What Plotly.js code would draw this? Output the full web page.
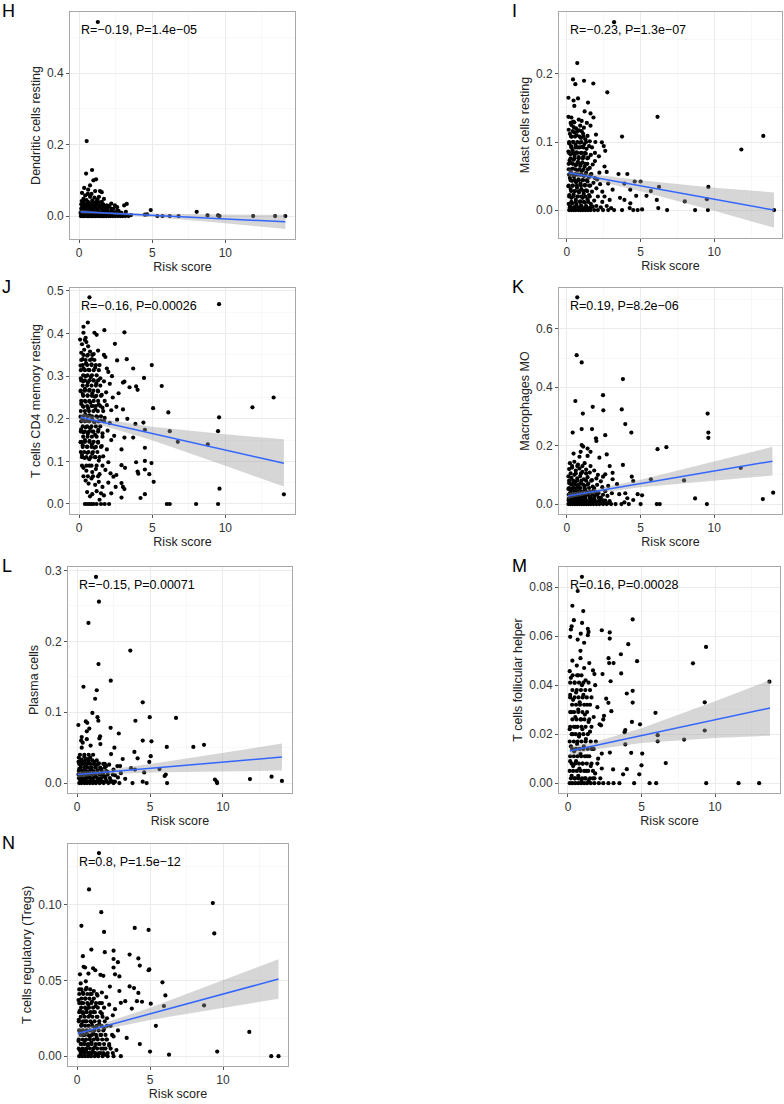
<!DOCTYPE html>
<html>
<head>
<meta charset="utf-8">
<script src="https://cdn.plot.ly/plotly-3.0.1.min.js"></script>
<style>
  body { margin: 0; background: #fff; }
  #plot { width: 784px; height: 1104px; }
</style>
</head>
<body>
<div id="plot"></div>
<script>
// panel letters, y axis titles and correlation labels
var panelLetters = ["H", "I", "J", "K", "L", "M", "N"];
var yTitles = ["Dendritic cells resting", "Mast cells resting", "T cells CD4 memory resting",
  "Macrophages MO", "Plasma cells", "T cells follicular helper", "T cells regulatory (Tregs)"];
var statLabels = ["R=\u22120.19, P=1.4e\u221205", "R=\u22120.23, P=1.3e\u221207", "R=\u22120.16, P=0.00026",
  "R=0.19, P=8.2e\u221206", "R=\u22120.15, P=0.00071", "R=0.16, P=0.00028", "R=0.8, P=1.5e\u221212"];

// H: Dendritic cells resting  [risk score, fraction]
var hPts = [[1.28,.543],[0.52,.21],[0.48,.119],[0.89,.129],[1.16,.103],[0.98,.10],[0.75,.086],[0.35,.079],[1.43,.07],[1.1,.07],
  [1.55,.067],[0.6,.062],[0.75,.054],[1.36,.054],[0.3,.048],[1.2,.04],[3.26,.034],[3.08,.03],[2.6,.025],[4.9,.017],[3.55,.003],
  [4.65,.005],[4.5,.004],[5.35,0],[5.7,0],[6.2,0],[6.8,0],[8.04,.012],[8.78,.002],[9.5,.002],[9.6,0],[11.9,0],[13.4,0],[14.1,0],
  [0.12,0],[0.25,0],[0.33,0],[0.41,0],[0.56,0],[0.62,0],[0.74,0],[0.85,0],[0.93,0],[1.05,0],[1.12,0],[1.24,0],[1.37,0],[1.46,0],
  [1.58,0],[1.66,0],[1.79,0],[1.88,0],[2.02,0],[2.15,0],[2.31,0],[2.48,0],[2.66,0],[2.83,0],[2.97,0],[3.15,0],[3.38,0],
  [0.15,.012],[0.22,.025],[0.28,.008],[0.35,.018],[0.4,.032],[0.46,.006],[0.52,.014],[0.58,.027],[0.63,.038],[0.7,.01],[0.77,.02],
  [0.83,.031],[0.88,.005],[0.95,.016],[1.02,.026],[1.08,.009],[1.15,.035],[1.22,.019],[1.3,.012],[1.38,.028],[1.45,.006],[1.52,.021],
  [1.6,.033],[1.7,.013],[1.78,.024],[1.87,.008],[1.96,.017],[2.05,.028],[2.2,.011],[2.35,.02],[2.5,.007],[2.7,.015],[2.9,.009],
  [3.2,.012],[0.18,.042],[0.5,.045],[0.9,.044],[1.25,.047],[0.3,.004],[0.66,.003],[1.0,.004],[1.33,.003],[2.1,.004],[0.45,.022],
  [1.9,.03],[0.72,.036],[1.55,.04],[0.25,.034],[2.45,.03],[1.05,.052],[0.42,.058],[0.85,.062],[0.2,.065],[1.7,.048],[0.62,.074],[2.2,.035]];
// dense part of the cloud, read as rows: [fraction, [risk scores]]
var hDense = [[.003,[0.2,0.5,0.8,1.1,1.4,1.7,2.0,2.3,2.6,2.9,3.2]],[.009,[0.1,0.35,0.6,0.9,1.2,1.5,1.8,2.1,2.4,2.75]],
  [.015,[0.2,0.45,0.7,1.0,1.3,1.6,1.9,2.25,2.6]],[.021,[0.15,0.4,0.65,0.95,1.25,1.55,1.85,2.2]],
  [.027,[0.25,0.5,0.8,1.1,1.4,1.7,2.0]],[.033,[0.15,0.45,0.75,1.05,1.35,1.65]],[.04,[0.3,0.6,0.95,1.3]]];
var hFit = [[0.1,.012],[14.1,-.016]];
var hBandX = [0.1,1.7,5,10,14.1];
var hBandHi = [.017,.0118,.0072,.0042,.004];
var hBandLo = [.007,.0058,-.0028,-.0198,-.036];

// I: Mast cells resting
var iPts = [[3.2,.276],[0.70,.216],[0.41,.192],[0.57,.185],[1.16,.19],[1.79,.186],[2.74,.173],[0.1,.165],[0.75,.164],[0.45,.161],
  [1.43,.158],[0.5,.153],[1.2,.145],[6.15,.137],[0.1,.137],[0.3,.136],[1.6,.142],[1.8,.136],[0.8,.133],[1.0,.131],[0.5,.129],
  [1.35,.128],[1.6,.124],[0.45,.122],[3.74,.108],[13.33,.109],[11.84,.089],[1.97,.111],[2.37,.0995],[2.5,.094],[2.6,.087],[1.93,.1],
  [1.9,.084],[2.17,.079],[2.55,.064],[2.7,.056],[3.5,.053],[4.1,.053],[4.6,.042],[5.0,.042],[5.7,.028],[6.25,.034],[6.1,.015],
  [8.0,.0128],[9.6,.034],[9.5,.016],[3.74,0],[4.26,.003],[4.5,0],[4.8,0],[5.1,.001],[6.2,.003],[6.8,0],[8.7,0],[9.57,0],[14.06,0],
  [1.9,.072],[2.2,.055],[2.8,.039],[3.1,.03],[3.9,.039],[4.3,.03],[4.7,.021],[5.4,.021],[3.9,.015],[4.3,.01],[2.4,.027],[2.55,.02],
  [2.9,.015],[3.6,.018],
  [0.12,.118],[0.2,.112],[0.33,.108],[0.5,.114],[0.66,.11],[0.82,.117],[0.95,.106],[1.1,.112],[1.25,.104],[1.4,.109],[1.55,.101],
  [0.15,.098],[0.28,.094],[0.42,.1],[0.58,.096],[0.72,.092],[0.88,.099],[1.02,.093],[1.18,.097],[1.33,.09],[1.5,.094],[1.7,.092],
  [0.1,.086],[0.24,.082],[0.38,.088],[0.52,.08],[0.65,.085],[0.8,.078],[0.95,.084],[1.12,.079],[1.28,.083],[1.45,.077],[1.62,.081],
  [0.18,.073],[0.3,.069],[0.46,.074],[0.6,.066],[0.75,.071],[0.9,.065],[1.05,.07],[1.2,.064],[1.38,.068],[1.55,.062],[1.75,.067],
  [0.12,.06],[0.26,.056],[0.4,.061],[0.55,.053],[0.7,.058],[0.85,.052],[1.0,.057],[1.15,.05],[1.3,.055],[1.48,.048],[1.66,.053],[1.9,.047],
  [0.2,.047],[0.34,.043],[0.48,.049],[0.62,.041],[0.78,.045],[0.92,.039],[1.08,.044],[1.22,.037],[1.4,.042],[1.58,.036],[1.8,.04],[2.05,.045],
  [0.1,.035],[0.25,.031],[0.38,.036],[0.52,.028],[0.68,.033],[0.82,.026],[0.98,.031],[1.14,.024],[1.3,.029],[1.5,.022],[1.7,.027],[2.0,.032],[2.25,.038],
  [0.16,.022],[0.3,.018],[0.45,.023],[0.6,.015],[0.75,.02],[0.9,.013],[1.06,.018],[1.22,.011],[1.4,.016],[1.62,.009],[1.85,.014],[2.1,.02],[2.4,.012],
  [0.12,.009],[0.22,.005],[0.36,.01],[0.5,.004],[0.64,.008],[0.8,.003],[0.96,.007],[1.12,.002],[1.3,.006],[1.52,.003],[1.75,.005],[2.0,.006],[2.3,.004],[2.7,.006],[3.0,.003],
  [0.15,0],[0.3,0],[0.45,0],[0.6,0],[0.78,0],[0.92,0],[1.08,0],[1.25,0],[1.42,0],[1.6,0],[1.85,0],[2.1,0],[2.45,0],[2.8,0],[3.2,0],
  [0.3,.125],[0.62,.12],[0.9,.124],[1.15,.121],[0.42,.13],[0.25,.128]];
var iDense = [[.004,[0.2,0.48,0.75,1.02,1.3,1.6]],[.012,[0.3,0.6,0.88,1.15,1.45]],[.02,[0.15,0.42,0.7,0.98,1.25,1.55]],
  [.028,[0.28,0.55,0.82,1.1,1.38]],[.036,[0.12,0.4,0.68,0.95,1.22,1.5]],[.044,[0.25,0.52,0.8,1.08,1.35]],
  [.052,[0.15,0.42,0.7,0.98,1.25,1.6]],[.06,[0.3,0.58,0.85,1.12,1.42]],[.068,[0.12,0.4,0.68,0.95,1.25]],
  [.076,[0.25,0.52,0.8,1.08,1.38]],[.084,[0.15,0.42,0.7,0.98,1.22]],[.092,[0.3,0.58,0.85,1.12]],
  [.1,[0.15,0.42,0.7,0.98,1.3]],[.108,[0.28,0.55,0.85,1.12]],[.116,[0.4,0.7,1.0]]];
var iFit = [[0.1,.055],[14.06,0]];
var iBandX = [0.1,1.7,5,10,14.06];
var iBandHi = [.06,.0527,.0437,.033,.026];
var iBandLo = [.05,.0447,.0277,-.001,-.026];

// J: T cells CD4 memory resting
var jPts = [[0.71,.485],[9.57,.469],[0.6,.426],[0.3,.416],[1.73,.408],[1.05,.402],[1.2,.397],[3.1,.403],[0.3,.402],[0.07,.386],
  [0.4,.385],[2.45,.376],[0.5,.38],[3.26,.34],[2.6,.337],[1.7,.35],[1.8,.345],[4.97,.326],[3.7,.318],[1.9,.318],[4.44,.296],
  [5.65,.277],[3.9,.276],[4.0,.268],[3.45,.274],[3.0,.285],[3.1,.287],[2.25,.3],[13.3,.25],[11.85,.227],[5.06,.225],[6.1,.215],
  [9.57,.2035],[3.85,.188],[4.4,.191],[4.5,.174],[6.2,.171],[6.75,.146],[9.5,.171],[8.8,.14],[3.7,.156],[3.1,.156],[4.5,.132],
  [2.9,.128],[3.9,.098],[4.5,.101],[4.95,.096],[2.9,.091],[3.14,.085],[4.0,.076],[4.05,.071],[4.5,.081],[4.8,.07],[5.1,.052],
  [2.55,.068],[2.35,.064],[2.9,.049],[3.0,.04],[2.5,.04],[3.1,.035],[2.9,.015],[4.5,.023],[4.2,.014],[9.6,.036],[14.0,.0227],
  [6.0,0],[6.2,0],[8.0,0],[9.5,0],[1.7,.02],[1.5,.025],[0.9,.023],
  [0.4,0],[0.55,0],[0.7,0],[0.85,0],[1.0,0],[1.2,0],[1.5,0],[1.75,0],[2.05,0],
  [0.15,.355],[0.35,.362],[0.55,.348],[0.75,.358],[1.0,.352],[1.3,.36],
  [0.1,.325],[0.3,.318],[0.48,.33],[0.65,.315],[0.85,.328],[1.1,.32],[1.4,.326],[2.0,.31],
  [0.12,.295],[0.28,.288],[0.45,.3],[0.6,.285],[0.8,.298],[0.98,.29],[1.18,.283],[1.45,.295],[1.7,.288],[2.1,.282],
  [0.1,.265],[0.25,.258],[0.4,.27],[0.58,.255],[0.72,.268],[0.9,.26],[1.08,.252],[1.3,.264],[1.55,.256],[1.85,.262],[2.3,.25],[2.7,.26],
  [0.15,.235],[0.3,.228],[0.46,.24],[0.62,.225],[0.78,.238],[0.95,.23],[1.12,.222],[1.35,.234],[1.6,.226],[1.9,.232],[2.2,.22],[2.55,.228],[3.0,.222],
  [0.1,.205],[0.26,.198],[0.42,.21],[0.56,.195],[0.7,.208],[0.88,.2],[1.05,.192],[1.25,.204],[1.5,.196],[1.75,.202],[2.1,.19],[2.6,.198],[3.3,.2],
  [0.14,.175],[0.3,.168],[0.45,.18],[0.6,.165],[0.76,.178],[0.92,.17],[1.1,.162],[1.32,.174],[1.6,.166],[1.95,.172],[2.4,.16],
  [0.1,.145],[0.25,.138],[0.4,.15],[0.55,.135],[0.72,.148],[0.88,.14],[1.05,.132],[1.3,.144],[1.55,.136],[1.9,.128],[2.2,.15],
  [0.2,.115],[0.38,.108],[0.55,.12],[0.7,.105],[0.9,.118],[1.1,.11],[1.35,.102],[1.65,.112],[2.0,.098],
  [0.3,.085],[0.5,.078],[0.7,.09],[0.9,.075],[1.15,.082],[1.4,.07],[1.8,.08],[2.15,.072],
  [0.45,.055],[0.65,.048],[0.85,.06],[1.1,.045],[1.35,.052],[1.6,.04],[2.0,.05],
  [0.55,.028],[0.75,.018],[1.2,.03],[1.4,.01],[2.2,.025],
  [0.2,.375],[0.45,.39],[0.62,.37],[0.88,.34],[0.25,.34]];
var jDense = [[.11,[0.2,0.5,0.8,1.1,1.4]],[.122,[0.12,0.35,0.65,0.95,1.25]],[.134,[0.25,0.55,0.85,1.15,1.5]],
  [.146,[0.15,0.4,0.7,1.0,1.3]],[.158,[0.28,0.58,0.88,1.2,1.6]],[.17,[0.12,0.4,0.68,0.98,1.3]],
  [.182,[0.25,0.55,0.85,1.15,1.45]],[.194,[0.15,0.4,0.7,1.0,1.32,1.7]],[.206,[0.28,0.58,0.88,1.18,1.5]],
  [.218,[0.12,0.4,0.68,0.98,1.28,1.65]],[.23,[0.25,0.55,0.85,1.15,1.45]],[.242,[0.15,0.4,0.7,1.0,1.3,1.75]],
  [.254,[0.28,0.58,0.88,1.18,1.5]],[.266,[0.12,0.4,0.68,0.98,1.28]],[.278,[0.25,0.55,0.85,1.15,1.45]],
  [.29,[0.15,0.4,0.7,1.0,1.3]],[.302,[0.28,0.58,0.88,1.2]],[.314,[0.12,0.4,0.7,1.0,1.35]],
  [.326,[0.25,0.55,0.85,1.15]],[.338,[0.15,0.45,0.75,1.05]],[.35,[0.3,0.6,0.9]],
  [.065,[0.3,0.6,0.95,1.3]],[.09,[0.2,0.5,0.85,1.2,1.6]]];
var jFit = [[0.1,.2035],[14,.0955]];
var jBandX = [0.1,1.7,5,10,14];
var jBandHi = [.2145,.199,.1815,.1635,.152];
var jBandLo = [.1925,.183,.1495,.0895,.041];

// K: Macrophages M0
var kPts = [[0.7,.708],[0.66,.51],[1.0,.485],[3.8,.428],[0.57,.353],[2.45,.373],[1.75,.333],[2.47,.321],[3.72,.324],[1.08,.31],
  [9.55,.31],[0.39,.245],[1.0,.257],[1.7,.257],[3.96,.274],[4.37,.245],[2.6,.236],[1.97,.225],[2.0,.216],[9.6,.245],[9.6,.227],
  [6.15,.188],[6.75,.195],[11.8,.124],[7.95,.081],[5.7,.085],[8.7,.0195],[13.3,.017],[14.0,.039],[9.5,0],[6.1,0],[6.3,0],
  [1.0,.202],[1.1,.197],[1.4,.19],[0.93,.179],[0.45,.173],[1.6,.179],[2.2,.159],[0.85,.162],[1.4,.165],[2.7,.17],[2.9,.13],
  [3.8,.134],[3.1,.107],[3.1,.085],[3.4,.068],[4.4,.094],[4.5,.079],[2.6,.102],[2.45,.094],[3.05,.037],[3.55,.034],[3.96,.037],
  [4.8,.034],[5.1,.03],[4.1,.02],[4.5,.014],[3.9,.006],[3.7,0],[4.2,0],[5.0,0],
  [0.2,.14],[0.5,.145],[0.75,.135],[1.2,.14],[1.6,.13],
  [0.15,.12],[0.35,.125],[0.6,.115],[0.85,.122],[1.05,.11],[1.3,.118],[1.55,.108],[1.85,.115],[2.1,.1],
  [0.1,.095],[0.3,.09],[0.5,.1],[0.7,.088],[0.9,.096],[1.15,.085],[1.4,.092],[1.7,.082],[2.0,.088],[2.3,.078],
  [0.15,.072],[0.35,.068],[0.55,.076],[0.75,.064],[0.95,.072],[1.2,.062],[1.45,.07],[1.75,.06],[2.05,.066],[2.4,.058],[2.8,.062],
  [0.1,.052],[0.28,.048],[0.45,.055],[0.62,.045],[0.8,.052],[1.0,.042],[1.22,.05],[1.5,.04],[1.8,.046],[2.15,.038],[2.6,.044],
  [0.18,.035],[0.36,.03],[0.52,.036],[0.7,.027],[0.88,.033],[1.08,.025],[1.3,.032],[1.58,.024],[1.9,.03],[2.3,.022],[2.75,.028],
  [0.12,.018],[0.3,.014],[0.46,.02],[0.64,.012],[0.82,.017],[1.0,.01],[1.2,.016],[1.42,.009],[1.7,.015],[2.0,.008],[2.45,.013],[2.9,.01],
  [0.2,.006],[0.4,.004],[0.58,.007],[0.76,.003],[0.95,.005],[1.15,.002],[1.35,.006],[1.6,.003],[1.85,.005],[2.2,.002],
  [0.1,0],[0.25,0],[0.4,0],[0.55,0],[0.7,0],[0.85,0],[1.0,0],[1.15,0],[1.3,0],[1.45,0],[1.62,0],[1.8,0],[2.0,0],[2.2,0],
  [2.45,0],[2.7,0],[3.0,0],[3.3,0]];
var kDense = [[.004,[0.2,0.45,0.7,0.95,1.2,1.45,1.7,1.95,2.25,2.55,2.85]],[.012,[0.12,0.35,0.6,0.85,1.1,1.35,1.6,1.9,2.2,2.6]],
  [.022,[0.25,0.5,0.75,1.0,1.25,1.55,1.85,2.15]],[.032,[0.12,0.38,0.62,0.88,1.15,1.42,1.72,2.05,2.45]],
  [.042,[0.25,0.5,0.75,1.02,1.3,1.6,1.95]],[.055,[0.15,0.4,0.65,0.92,1.2,1.5,1.85]],
  [.067,[0.28,0.55,0.82,1.1,1.4]],[.08,[0.15,0.42,0.7,0.98,1.3,1.65]],[.105,[0.25,0.6,0.95,1.3]],[.13,[0.35,0.7,1.05]]];
var kFit = [[0.05,.028],[13.95,.147]];
var kBandX = [0.05,1.7,5,10,13.95];
var kBandHi = [.038,.0491,.0834,.1462,.196];
var kBandLo = [.018,.0351,.0574,.0802,.098];

// L: Plasma cells
var lPts = [[1.3,.291],[1.5,.256],[0.78,.226],[3.65,.187],[1.47,.168],[2.31,.1445],[0.44,.136],[1.35,.131],[1.24,.119],[4.5,.114],
  [1.05,.099],[1.4,.093],[1.46,.088],[4.98,.093],[6.78,.092],[4.0,.088],[0.09,.082],[0.6,.087],[0.7,.085],[0.84,.077],[0.67,.073],
  [2.3,.078],[2.86,.07],[1.58,.066],[1.53,.063],[0.32,.065],[0.39,.057],[0.28,.06],[0.67,.062],[4.5,.06],[5.1,.059],[0.93,.053],
  [1.6,.055],[0.32,.05],[6.15,.051],[7.97,.051],[8.7,.054],[2.56,.05],[2.33,.041],[3.93,.044],[4.15,.035],[5.05,.038],[4.95,.03],
  [3.13,.034],[2.95,.024],[2.76,.024],[5.65,.0198],[6.08,.012],[6.0,.01],[3.7,.021],[3.97,.019],[4.6,.015],[6.17,0],[4.77,0],
  [3.8,0],[4.5,.002],[9.45,.005],[9.57,.002],[9.6,0],[11.85,.0056],[13.33,.009],[14.04,.003],
  [0.12,.036],[0.3,.033],[0.5,.037],[0.7,.034],[0.9,.036],[1.2,.03],[1.5,.028],[1.9,.027],[2.2,.026],
  [0.1,.03],[0.25,.026],[0.42,.029],[0.6,.024],[0.8,.028],[1.0,.022],[1.3,.025],[1.65,.02],[2.0,.024],[2.5,.019],
  [0.15,.02],[0.35,.017],[0.55,.021],[0.75,.015],[0.95,.019],[1.15,.014],[1.4,.018],[1.75,.012],[2.1,.016],[2.6,.011],[3.0,.014],
  [0.1,.012],[0.28,.009],[0.45,.013],[0.65,.008],[0.85,.011],[1.05,.006],[1.25,.01],[1.55,.005],[1.9,.009],[2.3,.004],[2.8,.008],[3.3,.006],
  [0.2,.005],[0.4,.003],[0.6,.006],[0.8,.002],[1.0,.004],[1.2,.001],[1.45,.003],[1.7,.002],[2.0,.003],[2.45,.002],
  [0.15,0],[0.3,0],[0.5,0],[0.68,0],[0.88,0],[1.08,0],[1.3,0],[1.55,0],[1.82,0],[2.15,0],[2.5,0],[2.9,0]];
var lDense = [[.002,[0.25,0.5,0.75,1.0,1.25,1.5,1.75,2.0,2.3,2.6]],[.007,[0.12,0.38,0.62,0.88,1.12,1.38,1.65,1.95,2.25]],
  [.012,[0.25,0.5,0.75,1.0,1.25,1.52,1.8,2.1,2.45]],[.017,[0.12,0.38,0.62,0.88,1.12,1.4,1.7,2.0]],
  [.022,[0.25,0.5,0.75,1.0,1.28,1.58,1.9]],[.027,[0.15,0.4,0.65,0.9,1.15,1.45,1.8]],
  [.032,[0.28,0.55,0.8,1.05,1.35]],[.04,[0.2,0.5,0.8,1.1]]];
var lFit = [[0.03,.012],[14.04,.0367]];
var lBandX = [0.03,1.7,5,10,14.04];
var lBandHi = [.016,.0179,.0268,.0426,.0557];
var lBandLo = [.008,.0119,.0148,.0166,.0177];

// M: T cells follicular helper
var mPts = [[0.95,.0842],[0.66,.0784],[0.3,.0724],[1.04,.0702],[0.4,.0665],[4.4,.0668],[0.96,.0654],[0.25,.064],[0.2,.0627],
  [2.3,.0624],[1.35,.063],[1.4,.0617],[1.35,.0604],[2.84,.0615],[2.84,.059],[0.87,.061],[0.15,.0597],[0.66,.0586],[1.1,.0573],
  [4.1,.0567],[9.39,.0556],[0.85,.054],[4.7,.0498],[8.5,.0489],[2.8,.049],[3.1,.049],[2.76,.051],[3.6,.0526],[3.62,.0448],
  [1.8,.0445],[2.35,.0445],[0.12,.0457],[2.9,.0416],[13.7,.0414],[4.0,.0366],[4.4,.0377],[4.4,.0329],[2.6,.0345],[2.75,.0328],
  [2.95,.0294],[5.95,.0287],[9.3,.033],[9.3,.0215],[4.9,.024],[4.35,.025],[2.45,.0275],[2.4,.026],[2.25,.0236],[3.9,.0217],
  [3.85,.0208],[3.9,.0158],[6.1,.0196],[6.1,.0171],[7.9,.0178],[5.05,.0121],[4.3,.0124],[2.85,.0125],[2.3,.0121],[6.65,.0082],
  [3.07,.0056],[4.0,.0057],[5.0,.0073],[3.75,.0036],[4.85,.0036],[4.5,0],[5.55,0],[6.0,0],[9.4,0],[11.6,0],[13.0,0],
  [0.3,.05],[0.6,.048],[0.85,.051],[1.1,.047],[1.45,.049],[1.7,.046],
  [0.2,.043],[0.45,.041],[0.7,.044],[0.95,.04],[1.2,.042],[1.5,.038],[1.85,.04],
  [0.15,.036],[0.35,.034],[0.55,.037],[0.8,.033],[1.05,.036],[1.3,.032],[1.6,.035],[2.0,.031],
  [0.25,.029],[0.5,.027],[0.7,.03],[0.9,.026],[1.15,.028],[1.4,.025],[1.75,.027],[2.15,.024],
  [0.12,.022],[0.32,.02],[0.52,.023],[0.75,.019],[0.98,.022],[1.22,.018],[1.5,.021],[1.9,.017],
  [0.2,.015],[0.42,.013],[0.62,.016],[0.85,.012],[1.08,.015],[1.3,.011],[1.62,.014],[2.05,.01],
  [0.15,.009],[0.35,.007],[0.55,.009],[0.78,.006],[1.0,.008],[1.25,.005],[1.55,.007],[1.85,.004],[2.3,.006],
  [0.25,.003],[0.48,.002],[0.7,.003],[0.92,.001],[1.15,.002],[1.4,.001],[1.7,.002],
  [0.12,0],[0.3,0],[0.5,0],[0.7,0],[0.9,0],[1.1,0],[1.3,0],[1.55,0],[1.8,0],[2.1,0],[2.4,0],[2.75,0],[3.1,0],[3.5,0]];
var mDense = [[.002,[0.2,0.45,0.7,0.95,1.2,1.5,1.8,2.2]],[.005,[0.12,0.35,0.6,0.85,1.1,1.38,1.7]],
  [.008,[0.25,0.5,0.75,1.0,1.28,1.6,2.0]],[.011,[0.15,0.4,0.65,0.9,1.15,1.45]],[.014,[0.28,0.55,0.8,1.05,1.35,1.75]],
  [.017,[0.12,0.4,0.65,0.92,1.2,1.55]],[.02,[0.25,0.52,0.78,1.05,1.35]],[.023,[0.15,0.4,0.65,0.92,1.2,1.6]],
  [.026,[0.3,0.58,0.85,1.12,1.45]],[.029,[0.15,0.42,0.7,0.98,1.3]],[.032,[0.28,0.55,0.82,1.1,1.5]],
  [.035,[0.15,0.45,0.72,1.0,1.28]],[.038,[0.3,0.6,0.88,1.18]],[.041,[0.15,0.45,0.75,1.05,1.4]],[.044,[0.32,0.62,0.92]]];
var mFit = [[0.12,.0131],[13.74,.0307]];
var mBandX = [0.12,1.7,5,10,13.74];
var mBandHi = [.0151,.0166,.0224,.0334,.042];
var mBandLo = [.0111,.0136,.0164,.0184,.0194];

// N: T cells regulatory (Tregs)
var nPts = [[1.5,.134],[0.82,.11],[9.3,.101],[1.66,.095],[0.3,.086],[3.95,.0846],[4.9,.0833],[1.85,.082],[9.4,.081],[0.98,.0703],
  [2.5,.0696],[1.9,.0686],[0.4,.066],[2.8,.062],[3.6,.067],[4.2,.0645],[4.3,.0598],[2.5,.0641],[2.5,.0585],[4.9,.0567],[4.95,.0572],
  [0.45,.059],[0.55,.0585],[0.2,.054],[0.78,.0545],[1.1,.058],[1.25,.0567],[1.6,.0537],[1.8,.053],[2.9,.0526],[2.6,.054],[0.25,.048],
  [0.6,.0494],[5.85,.0487],[6.05,.0401],[3.6,.046],[3.9,.0449],[4.2,.0417],[2.25,.0459],[2.9,.043],[5.95,.0331],[8.7,.0335],
  [5.05,.0346],[4.1,.0363],[4.45,.0359],[3.3,.0363],[3.0,.0352],[3.75,.0314],[11.8,.016],[13.3,0],[13.8,0],[9.6,.003],[5.0,.003],
  [6.3,.001],[4.3,.008],[3.4,.012],[5.4,.02],
  [0.15,.044],[0.4,.042],[0.65,.045],[0.9,.041],[1.15,.043],[1.4,.04],[1.7,.042],[2.0,.039],
  [0.1,.037],[0.3,.035],[0.55,.038],[0.78,.034],[1.02,.036],[1.28,.033],[1.55,.035],[1.85,.032],[2.2,.034],[2.6,.031],
  [0.2,.03],[0.42,.028],[0.65,.031],[0.88,.027],[1.12,.029],[1.4,.026],[1.7,.028],[2.05,.025],[2.45,.027],
  [0.12,.024],[0.32,.021],[0.55,.023],[0.78,.02],[1.0,.022],[1.25,.019],[1.52,.021],[1.85,.018],[2.3,.02],[2.8,.017],
  [0.2,.016],[0.42,.014],[0.65,.016],[0.88,.013],[1.1,.015],[1.35,.012],[1.65,.014],[2.0,.011],[2.5,.013],
  [0.1,.01],[0.3,.008],[0.52,.01],[0.75,.007],[0.98,.009],[1.22,.006],[1.5,.008],[1.8,.005],[2.2,.007],[2.7,.004],
  [0.18,.004],[0.4,.003],[0.62,.004],[0.85,.002],[1.08,.003],[1.32,.001],[1.6,.002],[1.95,.001],
  [0.15,0],[0.35,0],[0.55,0],[0.75,0],[0.95,0],[1.2,0],[1.45,0],[1.75,0],[2.1,0],[2.5,0],[3.0,0]];
var nDense = [[.002,[0.25,0.5,0.75,1.0,1.25,1.5,1.8,2.1,2.45]],[.005,[0.12,0.38,0.62,0.88,1.12,1.38,1.65,1.95,2.3]],
  [.008,[0.25,0.5,0.75,1.0,1.28,1.55,1.85,2.2]],[.011,[0.12,0.38,0.62,0.88,1.15,1.42,1.72,2.05]],
  [.014,[0.25,0.5,0.75,1.02,1.3,1.6,1.95,2.4]],[.017,[0.15,0.4,0.65,0.9,1.18,1.48,1.8]],
  [.02,[0.28,0.55,0.8,1.05,1.35,1.68,2.05]],[.023,[0.12,0.4,0.65,0.92,1.2,1.52,1.9]],
  [.026,[0.25,0.52,0.78,1.05,1.35,1.75]],[.029,[0.15,0.4,0.65,0.92,1.22,1.6]],[.032,[0.28,0.55,0.82,1.1,1.42]],
  [.035,[0.15,0.42,0.7,0.98,1.3,1.7]],[.038,[0.3,0.58,0.85,1.15]],[.041,[0.15,0.42,0.7,1.0,1.35]],[.044,[0.3,0.6,0.9]]];
var nFit = [[0.05,.015],[13.8,.0509]];
var nBandX = [0.05,1.7,5,10,13.8];
var nBandHi = [.018,.0213,.0319,.0499,.0639];
var nBandLo = [.012,.0173,.0239,.0319,.0379];

// panel boxes in pixels: [left, right, top, bottom], axis ranges and tick steps
var W = 784, H = 1104;
var panels = [
  {pts: hPts, dense: hDense, fit: hFit, bx: hBandX, hi: hBandHi, lo: hBandLo, box: [70, 295, 12, 239], xr: [-0.62, 14.76], yr: [-0.064, 0.571], dy: 0.2, fmt: ".1f"},
  {pts: iPts, dense: iDense, fit: iFit, bx: iBandX, hi: iBandHi, lo: iBandLo, box: [559, 782, 12, 238], xr: [-0.54, 14.6], yr: [-0.041, 0.291], dy: 0.1, fmt: ".1f"},
  {pts: jPts, dense: jDense, fit: jFit, bx: jBandX, hi: jBandHi, lo: jBandLo, box: [70, 295, 288, 514], xr: [-0.62, 14.76], yr: [-0.0235, 0.507], dy: 0.1, fmt: ".1f"},
  {pts: kPts, dense: kDense, fit: kFit, bx: kBandX, hi: kBandHi, lo: kBandLo, box: [559, 782, 288, 514], xr: [-0.54, 14.6], yr: [-0.034, 0.74], dy: 0.2, fmt: ".1f"},
  {pts: lPts, dense: lDense, fit: lFit, bx: lBandX, hi: lBandHi, lo: lBandLo, box: [68, 292, 567, 793], xr: [-0.62, 14.73], yr: [-0.014, 0.305], dy: 0.1, fmt: ".1f"},
  {pts: mPts, dense: mDense, fit: mFit, bx: mBandX, hi: mBandHi, lo: mBandLo, box: [559, 780, 567, 793], xr: [-0.61, 14.42], yr: [-0.004, 0.0882], dy: 0.02, fmt: ".2f"},
  {pts: nPts, dense: nDense, fit: nFit, bx: nBandX, hi: nBandHi, lo: nBandLo, box: [68, 288, 844, 1066], xr: [-0.62, 14.45], yr: [-0.0065, 0.140], dy: 0.05, fmt: ".2f"}
];

var traces = [];
var layout = {
  width: W, height: H,
  margin: {l: 0, r: 0, t: 0, b: 0},
  paper_bgcolor: "white", plot_bgcolor: "white",
  showlegend: false,
  font: {family: "Liberation Sans, Arial, sans-serif", size: 12, color: "#333"},
  annotations: []
};

panels.forEach(function (p, i) {
  var n = i === 0 ? "" : String(i + 1);
  var xa = "x" + n, ya = "y" + n;

  // sample points = listed points plus the dense rows
  var all = p.pts.slice();
  p.dense.forEach(function (row) {
    row[1].forEach(function (rx) { all.push([rx, row[0]]); });
  });

  traces.push({
    x: all.map(function (d) { return d[0]; }),
    y: all.map(function (d) { return d[1]; }),
    xaxis: xa, yaxis: ya,
    mode: "markers", type: "scatter",
    marker: {color: "black", size: 4.2},
    hoverinfo: "skip"
  });
  // confidence band
  traces.push({
    x: p.bx.concat(p.bx.slice().reverse()),
    y: p.hi.concat(p.lo.slice().reverse()),
    xaxis: xa, yaxis: ya,
    mode: "lines", type: "scatter",
    fill: "toself", fillcolor: "rgba(153,153,153,0.4)",
    line: {width: 0},
    hoverinfo: "skip"
  });
  traces.push({
    x: p.fit.map(function (d) { return d[0]; }),
    y: p.fit.map(function (d) { return d[1]; }),
    xaxis: xa, yaxis: ya,
    mode: "lines", type: "scatter",
    line: {color: "#3366FF", width: 1.5},
    hoverinfo: "skip"
  });

  var common = {
    showline: true, mirror: true, linecolor: "#a8a8a8", linewidth: 1,
    showgrid: true, gridcolor: "#ebebeb", gridwidth: 1, zeroline: false,
    ticks: "outside", ticklen: 3, tickcolor: "#555", tickwidth: 1,
    tickfont: {size: 12, color: "#333"}
  };
  layout["xaxis" + n] = Object.assign({}, common, {
    domain: [p.box[0] / W, p.box[1] / W],
    anchor: ya, range: p.xr, dtick: 5, tick0: 0,
    minor: {dtick: 2.5, showgrid: true, gridcolor: "#f3f3f3", gridwidth: 0.6, ticks: ""},
    title: {text: "Risk score", font: {size: 12.5, color: "#222"}, standoff: 0}
  });
  layout["yaxis" + n] = Object.assign({}, common, {
    domain: [1 - p.box[3] / H, 1 - p.box[2] / H],
    anchor: xa, range: p.yr, dtick: p.dy, tick0: 0, tickformat: p.fmt,
    minor: {dtick: p.dy / 2, showgrid: true, gridcolor: "#f3f3f3", gridwidth: 0.6, ticks: ""},
    title: {text: yTitles[i], font: {size: 12.5, color: "#222"}, standoff: 3}
  });

  layout.annotations.push({
    xref: "paper", yref: "paper",
    x: (p.box[0] + 9) / W, y: 1 - (p.box[2] + 18) / H,
    xanchor: "left", yanchor: "middle", showarrow: false,
    text: statLabels[i], font: {size: 12.5, color: "black"}
  });
  var left = i % 2 === 0;
  layout.annotations.push({
    xref: "paper", yref: "paper",
    x: left ? 0 : 510 / W, y: 1 - (p.box[2] - 1) / H,
    xanchor: "left", yanchor: "middle", showarrow: false,
    text: panelLetters[i], font: {size: 18, color: "black"}
  });
});

Plotly.newPlot("plot", traces, layout, {staticPlot: true});
</script>
</body>
</html>
